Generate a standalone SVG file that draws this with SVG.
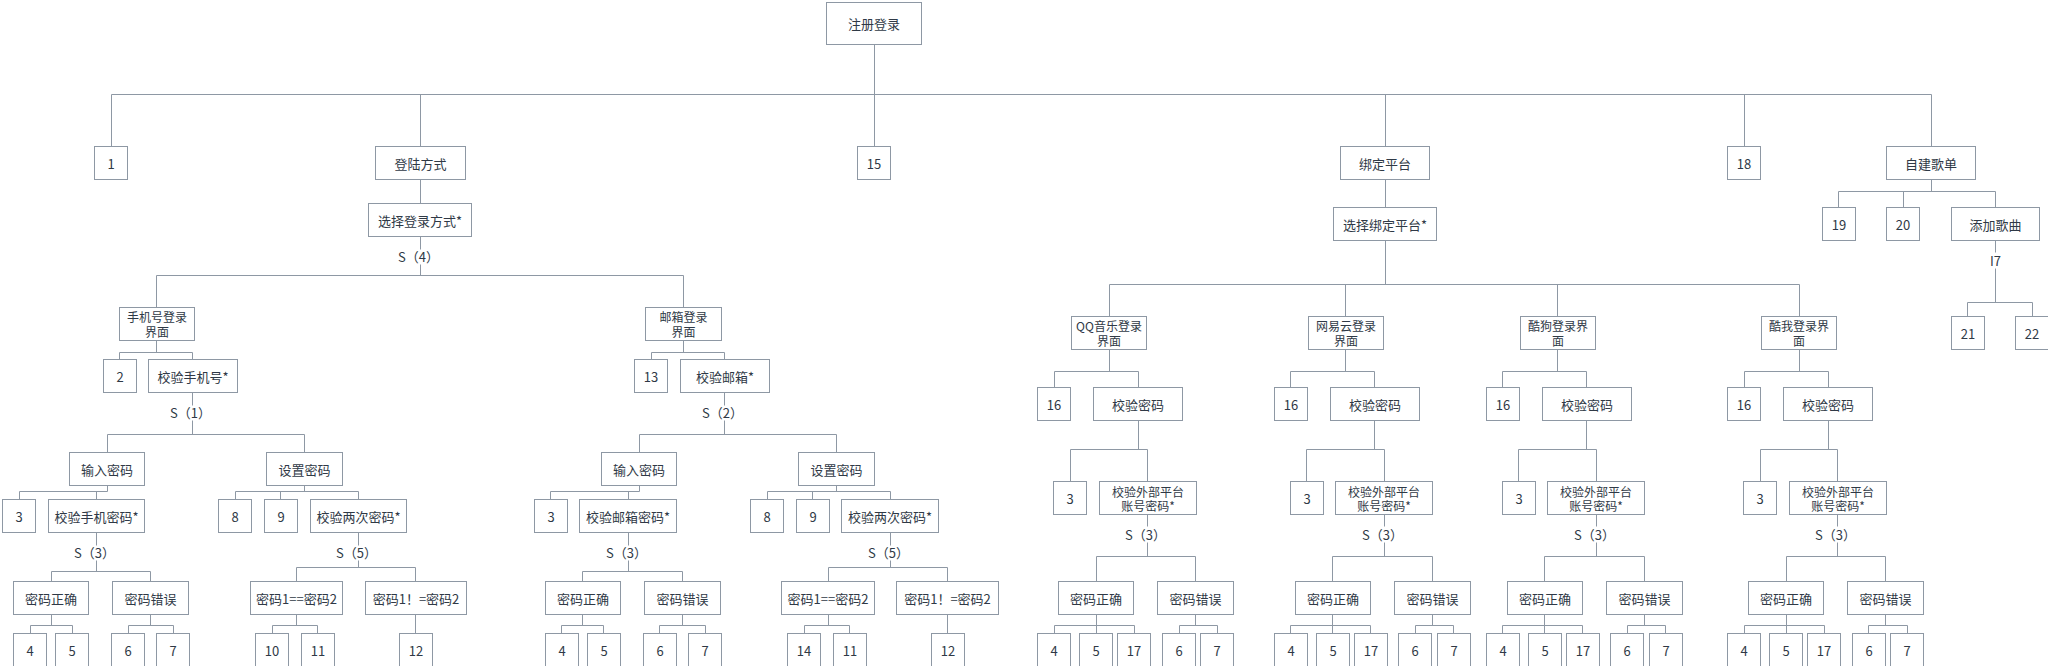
<svg xmlns="http://www.w3.org/2000/svg" width="2048" height="666" viewBox="0 0 2048 666">
<style>
.bg{fill:#ffffff}
rect.b{fill:#ffffff;stroke:#8e98a4;stroke-width:1}
.c{fill:none;stroke:#8e98a4;stroke-width:1}
text{font-family:"Noto Sans CJK SC","Liberation Sans",sans-serif;font-size:13px;fill:#2f3946;text-anchor:middle;dominant-baseline:central}
text.m{font-size:12px}
</style>
<rect class="bg" x="0" y="0" width="2048" height="666"/>
<g transform="translate(0.5,0.5)">
<g id="connectors">
<path class="c" d="M874 44V94 M111 94H1931 M111 94V146 M420 94V146 M874 94V146 M1385 94V146 M1744 94V146 M1931 94V146
M420 179V203 M420 236V249 M420 264V275 M156 275H683 M156 275V307 M683 275V307
M156 340V352 M119 352H192 M119 352V359 M192 352V359 M192 392V405 M192 420V434
M107 434H304 M107 434V452 M304 434V452
M107 485V491 M19 491H107 M19 491V499 M96 491V499 M96 532V545 M96 560V571
M51 571H150 M51 571V581 M150 571V581
M51 614V625 M30 625H72 M30 625V633 M72 625V633
M150 614V625 M128 625H173 M128 625V633 M173 625V633
M304 485V491 M235 491H358 M235 491V499 M280 491V499 M358 491V499 M358 532V545 M358 560V567
M296 567H415 M296 567V581 M415 567V581
M296 614V625 M272 625H317 M272 625V633 M317 625V633 M415 614V633
M683 340V352 M651 352H724 M651 352V359 M724 352V359 M724 392V405 M724 420V434
M639 434H836 M639 434V452 M836 434V452
M639 485V491 M550 491H639 M550 491V499 M628 491V499 M628 532V545 M628 560V571
M582 571H682 M582 571V581 M682 571V581
M582 614V625 M561 625H603 M561 625V633 M603 625V633
M682 614V625 M659 625H705 M659 625V633 M705 625V633
M836 485V491 M767 491H890 M767 491V499 M812 491V499 M890 491V499 M890 532V545 M890 560V567
M828 567H947 M828 567V581 M947 567V581
M828 614V625 M804 625H849 M804 625V633 M849 625V633 M947 614V633
M1385 179V207 M1385 240V284 M1109 284H1799 M1109 284V316 M1345 284V316 M1557 284V316 M1799 284V316
M1109 349V371 M1054 371H1138 M1054 371V387 M1138 371V387
M1138 420V449 M1070 449H1147 M1070 449V481 M1147 449V481 M1147 514V526 M1147 542V556
M1096 556H1195 M1096 556V581 M1195 556V581
M1096 614V625 M1054 625H1134 M1054 625V633 M1096 625V633 M1134 625V633
M1195 614V625 M1179 625H1217 M1179 625V633 M1217 625V633
M1345 349V371 M1290 371H1374 M1290 371V387 M1374 371V387
M1374 420V449 M1306 449H1384 M1306 449V481 M1384 449V481 M1384 514V526 M1384 542V556
M1332 556H1432 M1332 556V581 M1432 556V581
M1332 614V625 M1290 625H1370 M1290 625V633 M1332 625V633 M1370 625V633
M1432 614V625 M1415 625H1453 M1415 625V633 M1453 625V633
M1557 349V371 M1502 371H1586 M1502 371V387 M1586 371V387
M1586 420V449 M1518 449H1596 M1518 449V481 M1596 449V481 M1596 514V526 M1596 542V556
M1544 556H1644 M1544 556V581 M1644 556V581
M1544 614V625 M1502 625H1582 M1502 625V633 M1544 625V633 M1582 625V633
M1644 614V625 M1627 625H1665 M1627 625V633 M1665 625V633
M1799 349V371 M1744 371H1828 M1744 371V387 M1828 371V387
M1828 420V449 M1760 449H1837 M1760 449V481 M1837 449V481 M1837 514V526 M1837 542V556
M1786 556H1885 M1786 556V581 M1885 556V581
M1786 614V625 M1744 625H1824 M1744 625V633 M1786 625V633 M1824 625V633
M1885 614V625 M1868 625H1907 M1868 625V633 M1907 625V633
M1931 179V191 M1838 191H1995 M1838 191V207 M1903 191V207 M1995 191V207
M1995 240V252 M1995 268V302 M1967 302H2032 M1967 302V316 M2032 302V316"/>
<text x="418" y="256">S（4）</text>
<text x="190" y="412">S（1）</text>
<text x="94" y="552">S（3）</text>
<text x="356" y="552">S（5）</text>
<text x="722" y="412">S（2）</text>
<text x="626" y="552">S（3）</text>
<text x="888" y="552">S（5）</text>
<text x="1145" y="534">S（3）</text>
<text x="1382" y="534">S（3）</text>
<text x="1594" y="534">S（3）</text>
<text x="1835" y="534">S（3）</text>
<text x="1995" y="260">I7</text>
</g>
<g id="root"><rect class="b" x="826" y="2" width="95" height="42"/><text x="873.5" y="23">注册登录</text></g>
<g id="n1"><rect class="b" x="94" y="146" width="33" height="33"/><text x="110.5" y="162.5">1</text></g>
<g id="login"><rect class="b" x="375" y="146" width="90" height="33"/><text x="420" y="162.5">登陆方式</text></g>
<g id="n15"><rect class="b" x="857" y="146" width="33" height="33"/><text x="873.5" y="162.5">15</text></g>
<g id="bind"><rect class="b" x="1340" y="146" width="89" height="33"/><text x="1384.5" y="162.5">绑定平台</text></g>
<g id="n18"><rect class="b" x="1727" y="146" width="33" height="33"/><text x="1743.5" y="162.5">18</text></g>
<g id="playlist"><rect class="b" x="1886" y="146" width="89" height="33"/><text x="1930.5" y="162.5">自建歌单</text></g>
<g id="selLogin"><rect class="b" x="368" y="203" width="103" height="33"/><text x="419.5" y="219.5">选择登录方式*</text></g>
<g id="phone"><rect class="b" x="119" y="307" width="75" height="33"/><text class="m" x="156.5" y="316">手机号登录</text><text class="m" x="156.5" y="330.5">界面</text></g>
<g id="email"><rect class="b" x="645" y="307" width="76" height="33"/><text class="m" x="683" y="316">邮箱登录</text><text class="m" x="683" y="330.5">界面</text></g>
<g id="p2"><rect class="b" x="103" y="359" width="33" height="33"/><text x="119.5" y="375.5">2</text></g>
<g id="pChk"><rect class="b" x="148" y="359" width="89" height="33"/><text x="192.5" y="375.5">校验手机号*</text></g>
<g id="pIn"><rect class="b" x="69" y="452" width="75" height="33"/><text x="106.5" y="468.5">输入密码</text></g>
<g id="pSet"><rect class="b" x="266" y="452" width="76" height="33"/><text x="304" y="468.5">设置密码</text></g>
<g id="p3"><rect class="b" x="2" y="499" width="33" height="33"/><text x="18.5" y="515.5">3</text></g>
<g id="pChkPwd"><rect class="b" x="48" y="499" width="96" height="33"/><text x="96" y="515.5">校验手机密码*</text></g>
<g id="pOk"><rect class="b" x="13" y="581" width="75" height="33"/><text x="50.5" y="597.5">密码正确</text></g>
<g id="pErr"><rect class="b" x="112" y="581" width="76" height="33"/><text x="150" y="597.5">密码错误</text></g>
<g id="p4"><rect class="b" x="13" y="633" width="33" height="33"/><text x="29.5" y="649.5">4</text></g>
<g id="p5"><rect class="b" x="55" y="633" width="33" height="33"/><text x="71.5" y="649.5">5</text></g>
<g id="p6"><rect class="b" x="111" y="633" width="33" height="33"/><text x="127.5" y="649.5">6</text></g>
<g id="p7"><rect class="b" x="156" y="633" width="33" height="33"/><text x="172.5" y="649.5">7</text></g>
<g id="p8"><rect class="b" x="218" y="499" width="33" height="33"/><text x="234.5" y="515.5">8</text></g>
<g id="p9"><rect class="b" x="264" y="499" width="33" height="33"/><text x="280.5" y="515.5">9</text></g>
<g id="pTwice"><rect class="b" x="310" y="499" width="96" height="33"/><text x="358" y="515.5">校验两次密码*</text></g>
<g id="pEq"><rect class="b" x="250" y="581" width="92" height="33"/><text x="296" y="597.5">密码1==密码2</text></g>
<g id="pNe"><rect class="b" x="365" y="581" width="101" height="33"/><text x="415.5" y="597.5">密码1！=密码2</text></g>
<g id="p10"><rect class="b" x="255" y="633" width="33" height="33"/><text x="271.5" y="649.5">10</text></g>
<g id="p11"><rect class="b" x="301" y="633" width="33" height="33"/><text x="317.5" y="649.5">11</text></g>
<g id="p12"><rect class="b" x="399" y="633" width="33" height="33"/><text x="415.5" y="649.5">12</text></g>
<g id="e13"><rect class="b" x="634" y="359" width="33" height="33"/><text x="650.5" y="375.5">13</text></g>
<g id="eChk"><rect class="b" x="680" y="359" width="89" height="33"/><text x="724.5" y="375.5">校验邮箱*</text></g>
<g id="eIn"><rect class="b" x="601" y="452" width="75" height="33"/><text x="638.5" y="468.5">输入密码</text></g>
<g id="eSet"><rect class="b" x="798" y="452" width="76" height="33"/><text x="836" y="468.5">设置密码</text></g>
<g id="e3"><rect class="b" x="534" y="499" width="33" height="33"/><text x="550.5" y="515.5">3</text></g>
<g id="eChkPwd"><rect class="b" x="579" y="499" width="97" height="33"/><text x="627.5" y="515.5">校验邮箱密码*</text></g>
<g id="eOk"><rect class="b" x="545" y="581" width="75" height="33"/><text x="582.5" y="597.5">密码正确</text></g>
<g id="eErr"><rect class="b" x="644" y="581" width="76" height="33"/><text x="682" y="597.5">密码错误</text></g>
<g id="e4"><rect class="b" x="545" y="633" width="33" height="33"/><text x="561.5" y="649.5">4</text></g>
<g id="e5"><rect class="b" x="587" y="633" width="33" height="33"/><text x="603.5" y="649.5">5</text></g>
<g id="e6"><rect class="b" x="643" y="633" width="33" height="33"/><text x="659.5" y="649.5">6</text></g>
<g id="e7"><rect class="b" x="688" y="633" width="33" height="33"/><text x="704.5" y="649.5">7</text></g>
<g id="e8"><rect class="b" x="750" y="499" width="33" height="33"/><text x="766.5" y="515.5">8</text></g>
<g id="e9"><rect class="b" x="796" y="499" width="33" height="33"/><text x="812.5" y="515.5">9</text></g>
<g id="eTwice"><rect class="b" x="841" y="499" width="97" height="33"/><text x="889.5" y="515.5">校验两次密码*</text></g>
<g id="eEq"><rect class="b" x="781" y="581" width="93" height="33"/><text x="827.5" y="597.5">密码1==密码2</text></g>
<g id="eNe"><rect class="b" x="896" y="581" width="102" height="33"/><text x="947" y="597.5">密码1！=密码2</text></g>
<g id="e14"><rect class="b" x="787" y="633" width="33" height="33"/><text x="803.5" y="649.5">14</text></g>
<g id="e11"><rect class="b" x="833" y="633" width="33" height="33"/><text x="849.5" y="649.5">11</text></g>
<g id="e12"><rect class="b" x="931" y="633" width="33" height="33"/><text x="947.5" y="649.5">12</text></g>
<g id="selBind"><rect class="b" x="1333" y="207" width="103" height="33"/><text x="1384.5" y="223.5">选择绑定平台*</text></g>
<g id="qq"><rect class="b" x="1071" y="316" width="75" height="33"/><text class="m" x="1108.5" y="325">QQ音乐登录</text><text class="m" x="1108.5" y="339.5">界面</text></g>
<g id="wy"><rect class="b" x="1308" y="316" width="75" height="33"/><text class="m" x="1345.5" y="325">网易云登录</text><text class="m" x="1345.5" y="339.5">界面</text></g>
<g id="kg"><rect class="b" x="1520" y="316" width="75" height="33"/><text class="m" x="1557.5" y="325">酷狗登录界</text><text class="m" x="1557.5" y="339.5">面</text></g>
<g id="kw"><rect class="b" x="1761" y="316" width="75" height="33"/><text class="m" x="1798.5" y="325">酷我登录界</text><text class="m" x="1798.5" y="339.5">面</text></g>
<g id="q16"><rect class="b" x="1037" y="387" width="33" height="33"/><text x="1053.5" y="403.5">16</text></g>
<g id="qChk"><rect class="b" x="1093" y="387" width="89" height="33"/><text x="1137.5" y="403.5">校验密码</text></g>
<g id="q3"><rect class="b" x="1053" y="481" width="33" height="33"/><text x="1069.5" y="497.5">3</text></g>
<g id="qExt"><rect class="b" x="1099" y="481" width="97" height="33"/><text class="m" x="1147.5" y="490.5">校验外部平台</text><text class="m" x="1147.5" y="505">账号密码*</text></g>
<g id="qOk"><rect class="b" x="1058" y="581" width="75" height="33"/><text x="1095.5" y="597.5">密码正确</text></g>
<g id="qErr"><rect class="b" x="1157" y="581" width="76" height="33"/><text x="1195" y="597.5">密码错误</text></g>
<g id="q4"><rect class="b" x="1037" y="633" width="33" height="33"/><text x="1053.5" y="649.5">4</text></g>
<g id="q5"><rect class="b" x="1079" y="633" width="33" height="33"/><text x="1095.5" y="649.5">5</text></g>
<g id="q17"><rect class="b" x="1117" y="633" width="33" height="33"/><text x="1133.5" y="649.5">17</text></g>
<g id="q6"><rect class="b" x="1162" y="633" width="33" height="33"/><text x="1178.5" y="649.5">6</text></g>
<g id="q7"><rect class="b" x="1200" y="633" width="33" height="33"/><text x="1216.5" y="649.5">7</text></g>
<g id="w16"><rect class="b" x="1274" y="387" width="33" height="33"/><text x="1290.5" y="403.5">16</text></g>
<g id="wChk"><rect class="b" x="1330" y="387" width="89" height="33"/><text x="1374.5" y="403.5">校验密码</text></g>
<g id="w3"><rect class="b" x="1290" y="481" width="33" height="33"/><text x="1306.5" y="497.5">3</text></g>
<g id="wExt"><rect class="b" x="1335" y="481" width="97" height="33"/><text class="m" x="1383.5" y="490.5">校验外部平台</text><text class="m" x="1383.5" y="505">账号密码*</text></g>
<g id="wOk"><rect class="b" x="1295" y="581" width="75" height="33"/><text x="1332.5" y="597.5">密码正确</text></g>
<g id="wErr"><rect class="b" x="1394" y="581" width="76" height="33"/><text x="1432" y="597.5">密码错误</text></g>
<g id="w4"><rect class="b" x="1274" y="633" width="33" height="33"/><text x="1290.5" y="649.5">4</text></g>
<g id="w5"><rect class="b" x="1316" y="633" width="33" height="33"/><text x="1332.5" y="649.5">5</text></g>
<g id="w17"><rect class="b" x="1354" y="633" width="33" height="33"/><text x="1370.5" y="649.5">17</text></g>
<g id="w6"><rect class="b" x="1398" y="633" width="33" height="33"/><text x="1414.5" y="649.5">6</text></g>
<g id="w7"><rect class="b" x="1437" y="633" width="33" height="33"/><text x="1453.5" y="649.5">7</text></g>
<g id="g16"><rect class="b" x="1486" y="387" width="33" height="33"/><text x="1502.5" y="403.5">16</text></g>
<g id="gChk"><rect class="b" x="1542" y="387" width="89" height="33"/><text x="1586.5" y="403.5">校验密码</text></g>
<g id="g3"><rect class="b" x="1502" y="481" width="33" height="33"/><text x="1518.5" y="497.5">3</text></g>
<g id="gExt"><rect class="b" x="1547" y="481" width="97" height="33"/><text class="m" x="1595.5" y="490.5">校验外部平台</text><text class="m" x="1595.5" y="505">账号密码*</text></g>
<g id="gOk"><rect class="b" x="1507" y="581" width="75" height="33"/><text x="1544.5" y="597.5">密码正确</text></g>
<g id="gErr"><rect class="b" x="1606" y="581" width="76" height="33"/><text x="1644" y="597.5">密码错误</text></g>
<g id="g4"><rect class="b" x="1486" y="633" width="33" height="33"/><text x="1502.5" y="649.5">4</text></g>
<g id="g5"><rect class="b" x="1528" y="633" width="33" height="33"/><text x="1544.5" y="649.5">5</text></g>
<g id="g17"><rect class="b" x="1566" y="633" width="33" height="33"/><text x="1582.5" y="649.5">17</text></g>
<g id="g6"><rect class="b" x="1610" y="633" width="33" height="33"/><text x="1626.5" y="649.5">6</text></g>
<g id="g7"><rect class="b" x="1649" y="633" width="33" height="33"/><text x="1665.5" y="649.5">7</text></g>
<g id="k16"><rect class="b" x="1727" y="387" width="33" height="33"/><text x="1743.5" y="403.5">16</text></g>
<g id="kChk"><rect class="b" x="1783" y="387" width="89" height="33"/><text x="1827.5" y="403.5">校验密码</text></g>
<g id="k3"><rect class="b" x="1743" y="481" width="33" height="33"/><text x="1759.5" y="497.5">3</text></g>
<g id="kExt"><rect class="b" x="1789" y="481" width="97" height="33"/><text class="m" x="1837.5" y="490.5">校验外部平台</text><text class="m" x="1837.5" y="505">账号密码*</text></g>
<g id="kOk"><rect class="b" x="1748" y="581" width="75" height="33"/><text x="1785.5" y="597.5">密码正确</text></g>
<g id="kErr"><rect class="b" x="1847" y="581" width="76" height="33"/><text x="1885" y="597.5">密码错误</text></g>
<g id="k4"><rect class="b" x="1727" y="633" width="33" height="33"/><text x="1743.5" y="649.5">4</text></g>
<g id="k5"><rect class="b" x="1769" y="633" width="33" height="33"/><text x="1785.5" y="649.5">5</text></g>
<g id="k17"><rect class="b" x="1807" y="633" width="33" height="33"/><text x="1823.5" y="649.5">17</text></g>
<g id="k6"><rect class="b" x="1852" y="633" width="33" height="33"/><text x="1868.5" y="649.5">6</text></g>
<g id="k7"><rect class="b" x="1890" y="633" width="33" height="33"/><text x="1906.5" y="649.5">7</text></g>
<g id="n19"><rect class="b" x="1822" y="207" width="33" height="33"/><text x="1838.5" y="223.5">19</text></g>
<g id="n20"><rect class="b" x="1886" y="207" width="33" height="33"/><text x="1902.5" y="223.5">20</text></g>
<g id="addSong"><rect class="b" x="1951" y="207" width="88" height="33"/><text x="1995" y="223.5">添加歌曲</text></g>
<g id="n21"><rect class="b" x="1951" y="316" width="33" height="33"/><text x="1967.5" y="332.5">21</text></g>
<g id="n22"><rect class="b" x="2015" y="316" width="33" height="33"/><text x="2031.5" y="332.5">22</text></g>
</g>
</svg>
